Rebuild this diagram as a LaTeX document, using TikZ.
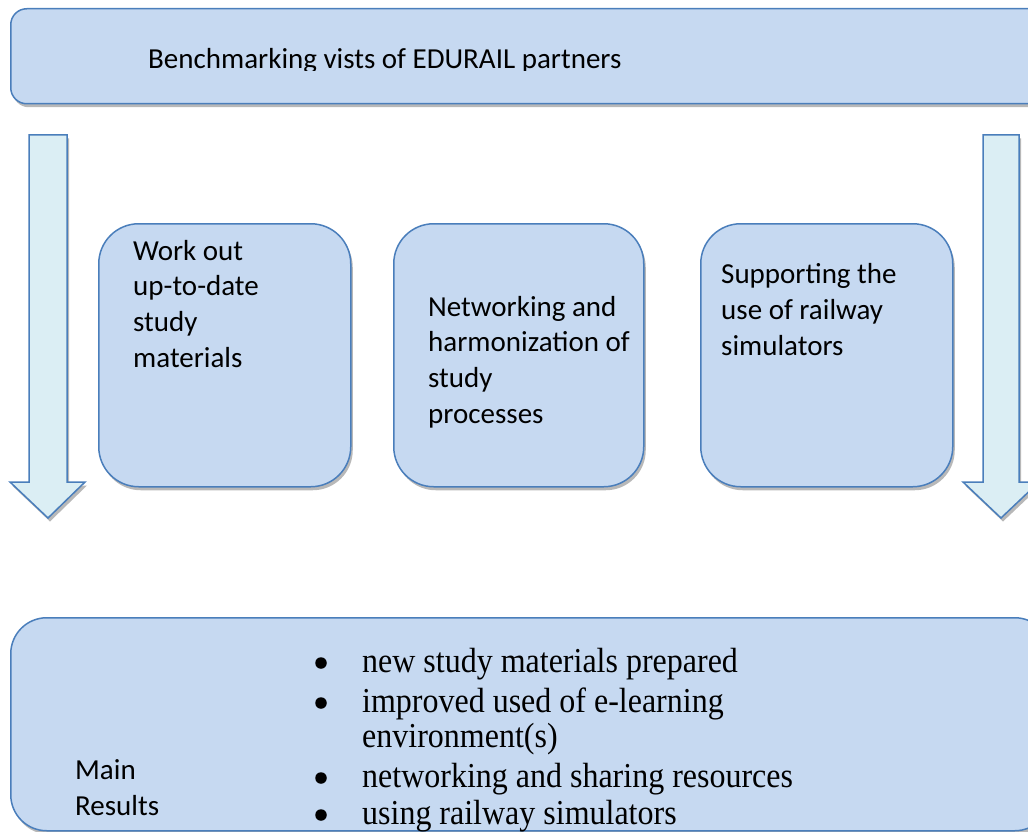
\documentclass[tikz,border=0pt]{standalone}
\usepackage{fontspec}
\setmainfont{Carlito}
\newfontfamily\tnr[FakeStretch=0.914]{Liberation Serif}
\usetikzlibrary{shadows}
\definecolor{boxfill}{HTML}{C6D9F1}
\definecolor{boxline}{HTML}{4A7EBB}
\definecolor{arrowfill}{HTML}{DBEEF4}
\tikzset{
  shade3/.style={drop shadow={shadow xshift=2pt, shadow yshift=-3.5pt, opacity=0.28, fill=black}},
  box/.style={draw=boxline, line width=1.5pt, fill=boxfill, shade3, inner sep=0pt},
  downarrow/.style={draw=boxline, line width=1.5pt, fill=arrowfill, line join=miter, shade3},
  calibri/.style={font=\fontsize{29}{35.6}\selectfont, anchor=base west, inner sep=0pt, align=left},
  serif/.style={font=\tnr\fontsize{35}{36}\selectfont, anchor=base west, inner sep=0pt},
  dot/.style={circle, fill=black, inner sep=0pt, minimum size=11.5pt}
}
\begin{document}
\begin{tikzpicture}[x=1pt,y=-1pt]
\useasboundingbox (0,0) rectangle (1028,832);
\clip (0,0) rectangle (1028,832);
% top banner
\node[box, rounded corners=16pt, minimum width=1040pt, minimum height=95pt, anchor=north west] (top) at (10,8) {};
\begin{scope}
\clip (0,0) rectangle (1028,71);
\node[calibri] (toptext) at (148,68.3) {Benchmarking vists of EDURAIL partners};
\end{scope}
% arrows
\path[downarrow] (29,135) -- (67,135) -- (67,482) -- (85,482) -- (48,518) -- (10,482) -- (29,482) -- cycle;
\path[downarrow] (983,135) -- (1019,135) -- (1019,482) -- (1039,482) -- (1001,518) -- (963,482) -- (983,482) -- cycle;
% middle boxes
\node[box, rounded corners=40pt, minimum width=252pt, minimum height=263pt, anchor=north west] (b1) at (98,223) {};
\node[box, rounded corners=40pt, minimum width=250pt, minimum height=263pt, anchor=north west] (b2) at (393,223) {};
\node[box, rounded corners=40pt, minimum width=252pt, minimum height=263pt, anchor=north west] (b3) at (700,223) {};
% multi-line nodes: base anchor is the last line's baseline
\node[calibri] (t1) at (133,367) {Work out\\up-to-date\\study\\materials};
\node[calibri] (t2) at (428,423) {Networking and\\harmonization of\\study\\processes};
\node[calibri] (t3) at (721,355) {Supporting the\\use of railway\\simulators};
% bottom box
\node[box, rounded corners=36pt, minimum width=1040pt, minimum height=213pt, anchor=north west] (bot) at (10,617) {};
\node[calibri] (main) at (75,815) {Main\\Results};
\node[dot] (d1) at (321,663) {};
\node[dot] (d2) at (321,703) {};
\node[dot] (d3) at (321,778) {};
\node[dot] (d4) at (321,815) {};
\node[serif] (r1) at (362,672) {new study materials prepared};
\node[serif] (r2) at (362,712) {improved used of e-learning};
\node[serif] (r2b) at (362,747) {environment(s)};
\node[serif] (r3) at (362,787) {networking and sharing resources};
\node[serif] (r4) at (362,824) {using railway simulators};
\end{tikzpicture}
\end{document}
